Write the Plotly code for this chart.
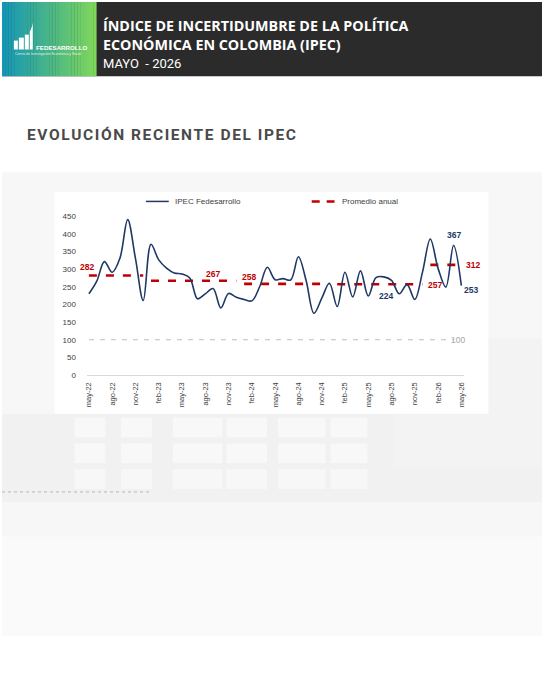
import plotly.graph_objects as go

W, H = 544, 680

# ---- datos ----
meses_abrev = ['ene', 'feb', 'mar', 'abr', 'may', 'jun',
               'jul', 'ago', 'sep', 'oct', 'nov', 'dic']
anios = [22, 23, 24, 25, 26]

meses = []
for a in anios:
    for i, m in enumerate(meses_abrev):
        if (a == 22 and i < 4) or (a == 26 and i > 4):
            continue
        meses.append(f'{m}-{a}')

ipec = [230, 265, 321, 291, 331, 440, 330, 211,
        370, 326, 303, 289, 286, 275, 216, 230, 245, 190, 231, 220,
        214, 210, 250, 305, 270, 273, 269, 335, 267, 175, 217, 260,
        194, 291, 221, 295, 224, 276, 278, 268, 230, 256, 214, 292,
        385, 302, 249, 367, 253]

promedio_anual = [282, 267, 258, 257, 312]
referencia = 100
etiquetas_x = meses[::3]

AZUL = '#1f3864'
ROJO = '#c00000'
GRIS_TXT = '#404040'
FUENTE = 'Liberation Sans, Arial, sans-serif'


def fx(x):
    return x / W


def fy(y):
    return 1 - y / H


shapes = []


def rect(x0, y0, x1, y1, color, layer='below'):
    shapes.append(dict(type='rect', xref='paper', yref='paper',
                       x0=fx(x0), x1=fx(x1), y0=fy(y1), y1=fy(y0),
                       fillcolor=color, line=dict(width=0), layer=layer))


# ---- fondo (foto desvanecida de calculadora) ----
rect(0, 172, W, 640, '#f7f7f7')
rect(0, 416, W, 505, '#f1f1f1')
rect(395, 340, W, 470, '#f3f3f3')
for kx0, kx1 in [(73, 104), (120, 151), (172, 222), (226, 267),
                 (278, 326), (331, 368)]:
    rect(kx0, 420, kx1, 440, '#f8f8f8')
    rect(kx0, 446, kx1, 466, '#f8f8f8')
    rect(kx0, 472, kx1, 492, '#f7f7f7')
rect(0, 540, W, 640, '#fafafa')

# panel blanco del gráfico
rect(53, 192, 490, 416, '#ffffff')

# ---- encabezado ----
rect(0, 0, W, 75, '#2b2b2b')
c0, c1 = (20, 150, 182), (126, 214, 90)
n = 30
for k in range(n):
    t = k / (n - 1)
    col = tuple(round(c0[j] + (c1[j] - c0[j]) * t) for j in range(3))
    rect(95 * k / n, 0, 95 * (k + 1) / n + 0.3, 75, 'rgb(%d,%d,%d)' % col)

# icono del logo
rect(12, 39, 16, 48, 'white')
rect(17, 36, 22, 48, 'white')
rect(23, 33, 27, 48, 'white')
shapes.append(dict(type='path', xref='paper', yref='paper',
                   path='M %f %f L %f %f Q %f %f %f %f L %f %f Z' % (
                       fx(28), fy(48), fx(28), fy(30),
                       fx(30.5), fy(26), fx(31), fy(21),
                       fx(31), fy(48)),
                   fillcolor='white', line=dict(width=0)))

# línea punteada
shapes.append(dict(type='line', xref='paper', yref='paper',
                   x0=fx(0), x1=fx(150), y0=fy(495), y1=fy(495),
                   line=dict(color='#b5b5b5', width=1, dash='dot')))

# leyenda
shapes.append(dict(type='line', xref='paper', yref='paper',
                   x0=fx(145), x1=fx(168), y0=fy(201.5), y1=fy(201.5),
                   line=dict(color=AZUL, width=1.5)))
shapes.append(dict(type='line', xref='paper', yref='paper',
                   x0=fx(312), x1=fx(335), y0=fy(201.5), y1=fy(201.5),
                   line=dict(color=ROJO, width=2.5, dash='8px,7px')))

fig = go.Figure()

# línea de referencia 100
fig.add_trace(go.Scatter(
    x=[meses[0], meses[-2]], y=[referencia, referencia], mode='lines',
    line=dict(color='#bfbfbf', width=1.2, dash='5px,6px'),
    hoverinfo='skip', showlegend=False))

# promedio anual por año
for a, prom in zip(anios, promedio_anual):
    xs = [m for m in meses if m.endswith(f'-{a}')]
    fig.add_trace(go.Scatter(
        x=xs, y=[prom] * len(xs), mode='lines',
        line=dict(color=ROJO, width=2.6, dash='8px,9px'),
        name='Promedio anual', showlegend=False))

fig.add_trace(go.Scatter(
    x=meses, y=ipec, mode='lines', name='IPEC Fedesarrollo',
    line=dict(color=AZUL, width=1.6, shape='spline', smoothing=1.0),
    showlegend=False))

ann = []


def txt(x, y, s, size, color, xanchor='left', family='Open Sans, sans-serif'):
    ann.append(dict(xref='paper', yref='paper', x=fx(x), y=fy(y), text=s,
                    showarrow=False, xanchor=xanchor, yanchor='middle',
                    font=dict(family=family, size=size, color=color)))


txt(100, 24, '<b>ÍNDICE DE INCERTIDUMBRE DE LA POLÍTICA</b>', 14.3, 'white')
txt(100, 43, '<b>ECONÓMICA EN COLOMBIA (IPEC)</b>', 14.3, 'white')
txt(100, 62, 'MAYO  - 2026', 13, 'white',
    family='Roboto, sans-serif')
txt(32, 45.5, '<b>FEDESARROLLO</b>', 6.2, 'white',
    family='Liberation Sans, Arial, sans-serif')
txt(11, 52.5, 'Centro de Investigación Económica y Social', 3.4,
    'rgba(255,255,255,0.85)', family='Liberation Sans, Arial, sans-serif')

titulo = '\u200a'.join('EVOLUCIÓN RECIENTE DEL IPEC')
txt(23, 134.5, '<b>' + titulo + '</b>', 15.5, '#4a4a4a',
    family='Roboto, sans-serif')

txt(172, 201.5, 'IPEC Fedesarrollo', 8, GRIS_TXT, family=FUENTE)
txt(340, 201.5, 'Promedio anual', 8, GRIS_TXT, family=FUENTE)


def etiqueta(xcat, y, s, color, xanchor='center', xshift=0, yshift=0):
    ann.append(dict(xref='x', yref='y', x=xcat, y=y, text='<b>%s</b>' % s,
                    showarrow=False, xanchor=xanchor, yanchor='middle',
                    xshift=xshift, yshift=yshift,
                    font=dict(family=FUENTE, size=8.5, color=color)))


etiqueta(meses[0], promedio_anual[0], promedio_anual[0], ROJO,
         xshift=-2, yshift=8)
etiqueta(meses[16], promedio_anual[1], promedio_anual[1], ROJO, yshift=7)
etiqueta(meses[20], promedio_anual[2], promedio_anual[2], ROJO,
         xshift=5, yshift=7)
etiqueta(meses[43], promedio_anual[3], promedio_anual[3], ROJO,
         xanchor='left', xshift=3, yshift=-1)
etiqueta(meses[48], promedio_anual[4], promedio_anual[4], ROJO,
         xanchor='left', xshift=3, yshift=0)
etiqueta(meses[47], ipec[47], ipec[47], AZUL, yshift=10)
etiqueta(meses[48], ipec[48], ipec[48], AZUL, xanchor='left',
         xshift=1, yshift=-4)
etiqueta(meses[36], ipec[36], ipec[36], AZUL, xanchor='left',
         xshift=9, yshift=0)
ann.append(dict(xref='x', yref='y', x=meses[-1], y=referencia,
                text=str(referencia), showarrow=False, xanchor='center',
                yanchor='middle', xshift=-3,
                font=dict(family=FUENTE, size=8.5, color='#a6a6a6')))

fig.update_layout(
    width=W, height=H,
    margin=dict(l=0, r=0, t=0, b=0),
    paper_bgcolor='white',
    plot_bgcolor='rgba(0,0,0,0)',
    showlegend=False,
    hovermode=False,
    shapes=shapes,
    annotations=ann,
    xaxis=dict(
        domain=[85.2 / W, 465.1 / W],
        type='category', categoryorder='array', categoryarray=meses,
        range=[-0.3, 48.3],
        tickmode='array', tickvals=etiquetas_x, ticktext=etiquetas_x,
        tickangle=-90, ticks='outside', ticklen=3,
        tickcolor='rgba(0,0,0,0)',
        tickfont=dict(family=FUENTE, size=7.5, color=GRIS_TXT),
        showgrid=False, zeroline=False,
        showline=True, linecolor='#d9d9d9', linewidth=1.2,
    ),
    yaxis=dict(
        domain=[fy(377), fy(214.5)],
        range=[0, 455], dtick=50,
        ticks='outside', ticklen=8, tickcolor='rgba(0,0,0,0)',
        tickfont=dict(family=FUENTE, size=8, color=GRIS_TXT),
        showgrid=False, zeroline=False, showline=False,
    ),
)

fig.write_html('out.html',
               config={'displayModeBar': False},
               post_script="document.body.style.margin='0';"
                           "document.body.style.overflow='hidden';")
